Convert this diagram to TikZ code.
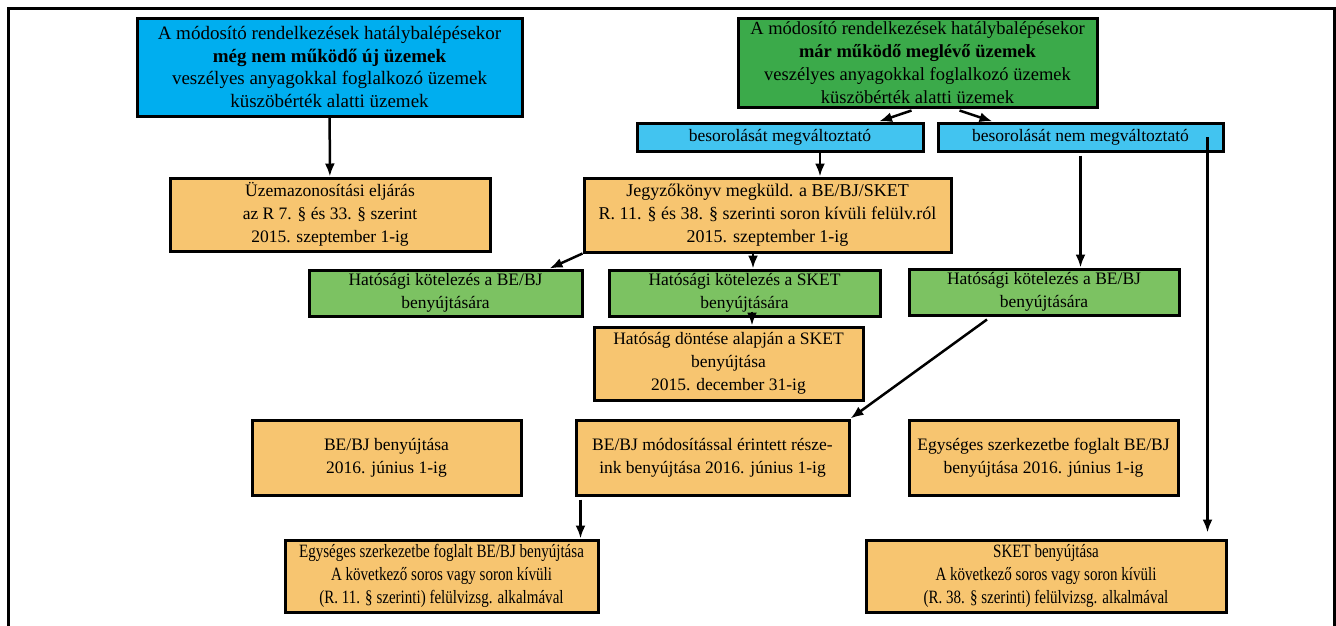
\documentclass[tikz,border=0pt]{standalone}
\usepackage{fontspec}
\setmainfont{Liberation Serif}
\newfontfamily\narrowfont[FakeStretch=0.8]{Liberation Serif}
\usepackage{tikz}
\usetikzlibrary{arrows.meta}

\definecolor{ujkek}{RGB}{0,174,239}
\definecolor{regizold}{RGB}{59,170,74}
\definecolor{vilkek}{RGB}{66,196,240}
\definecolor{narancs}{RGB}{247,197,112}
\definecolor{vilzold}{RGB}{124,194,98}

\begin{document}
\begin{tikzpicture}[x=1pt,y=-1pt,
    doboz/.style={draw, line width=3pt, align=center, inner sep=0pt,
        font=\fontsize{17.5}{22.8}\selectfont},
    fejdoboz/.style={doboz, font=\fontsize{19}{22.8}\selectfont},
    szukdoboz/.style={doboz, font=\narrowfont\fontsize{18.8}{22.8}\selectfont},
    nyil/.style={line width=2.5pt, -{Latex[length=13pt,width=10pt]}}]
    \useasboundingbox (0,0) rectangle (1336,625);
    \draw[line width=3pt] (8,640) -- (8,8) -- (1334,8) -- (1334,640);
			\node[fejdoboz, fill=ujkek, minimum width=385pt, minimum height=98pt] at (329.5,67) (uj){A módosító rendelkezések hatálybalépésekor\\\textbf{még nem működő új üzemek}\\veszélyes anyagokkal foglalkozó üzemek\\küszöbérték alatti üzemek};
			\node[fejdoboz, fill=regizold, minimum width=359pt, minimum height=89pt, font=\fontsize{18.5}{22.8}\selectfont] at (917.5,62.5) (regi){A módosító rendelkezések hatálybalépésekor\\\textbf{már működő meglévő üzemek}\\veszélyes anyagokkal foglalkozó üzemek\\küszöbérték alatti üzemek};
			\node[doboz, fill=vilkek, minimum width=286pt, minimum height=28pt] at (780,137) (valt){besorolását megváltoztató};
			\node[doboz, fill=vilkek, minimum width=285pt, minimum height=28pt] at (1080.5,137) (nemvalt){besorolását nem megváltoztató};
			\node[doboz, fill=narancs, minimum width=320pt, minimum height=73pt] at (330,214.5) (azon){Üzemazonosítási eljárás\\az R 7. § és 33. § szerint\\2015. szeptember 1-ig};
			\node[doboz, fill=narancs, minimum width=367pt, minimum height=74pt, font=\fontsize{18}{22.8}\selectfont] at (767.5,215) (jkv){Jegyzőkönyv megküld. a BE/BJ/SKET\\R. 11. § és 38. § szerinti soron kívüli felülv.ról\\2015. szeptember 1-ig};
			\node[doboz, fill=vilzold, minimum width=273pt, minimum height=46pt] at (445.5,293) (kotbe){Hatósági kötelezés a BE/BJ\\benyújtására};
			\node[doboz, fill=vilzold, minimum width=271pt, minimum height=46pt] at (744.5,293) (kotsket){Hatósági kötelezés a SKET\\benyújtására};
			\node[doboz, fill=vilzold, minimum width=270pt, minimum height=46pt] at (1044,292) (kotbe2){Hatósági kötelezés a BE/BJ\\benyújtására};
			\node[doboz, fill=narancs, minimum width=269pt, minimum height=73pt] at (728.5,363.5) (dontes){Hatóság döntése alapján a SKET\\benyújtása\\2015. december 31-ig};
			\node[doboz, fill=narancs, minimum width=269pt, minimum height=75pt] at (386.5,457.5) (bebj){BE/BJ benyújtása\\2016. június 1-ig};
			\node[doboz, fill=narancs, minimum width=273pt, minimum height=75pt] at (712.5,457.5) (modos){BE/BJ módosítással érintett része-\\ink benyújtása 2016. június 1-ig};
			\node[doboz, fill=narancs, minimum width=269pt, minimum height=75pt] at (1043.5,457.5) (egys){Egységes szerkezetbe foglalt BE/BJ\\benyújtása 2016. június 1-ig};
			\node[szukdoboz, fill=narancs, minimum width=313pt, minimum height=72pt] at (441.5,576) (egysbj){Egységes szerkezetbe foglalt BE/BJ benyújtása\\A következő soros vagy soron kívüli\\(R. 11. § szerinti) felülvizsg. alkalmával};
			\node[szukdoboz, fill=narancs, minimum width=360pt, minimum height=72pt] at (1046,576) (sket){SKET benyújtása\\A következő soros vagy soron kívüli\\(R. 38. § szerinti) felülvizsg. alkalmával};
			\coordinate (lefut) at ([xshift=127pt]nemvalt.center);
			\draw[nyil] (uj) -- (azon);
			\draw[nyil] ([xshift=-6pt,yshift=-2pt]regi.south) -- ([xshift=99pt]valt.north);
			\draw[nyil] ([xshift=42pt,yshift=-2pt]regi.south) -- ([xshift=-88pt]nemvalt.north);
			\draw[nyil] ([xshift=40pt]valt.south) -- ([xshift=40pt]valt.south |- jkv.north);
			\draw[nyil] ([yshift=-3pt]nemvalt.south) -- (nemvalt.south |- kotbe2.north);
			\draw[nyil, shorten >=6pt] (lefut) -- (lefut |- sket.north);
			\draw[nyil] (jkv.south west) -- ([xshift=104pt]kotbe.north);
			\draw[nyil] ([xshift=-14.5pt]jkv.south) -- ([xshift=-14.5pt]jkv.south |- kotsket.north);
			\draw[nyil] ([xshift=7.5pt,yshift=6pt]kotsket.south) -- ([xshift=7.5pt]kotsket.south |- dontes.north);
			\draw[nyil] ([xshift=-57pt,yshift=-3pt]kotbe2.south) -- (modos.north east);
			\draw[nyil] ([xshift=-132pt,yshift=-3pt]modos.south) -- ([xshift=-132pt]modos.south |- egysbj.north);
		\end{tikzpicture}
\end{document}
